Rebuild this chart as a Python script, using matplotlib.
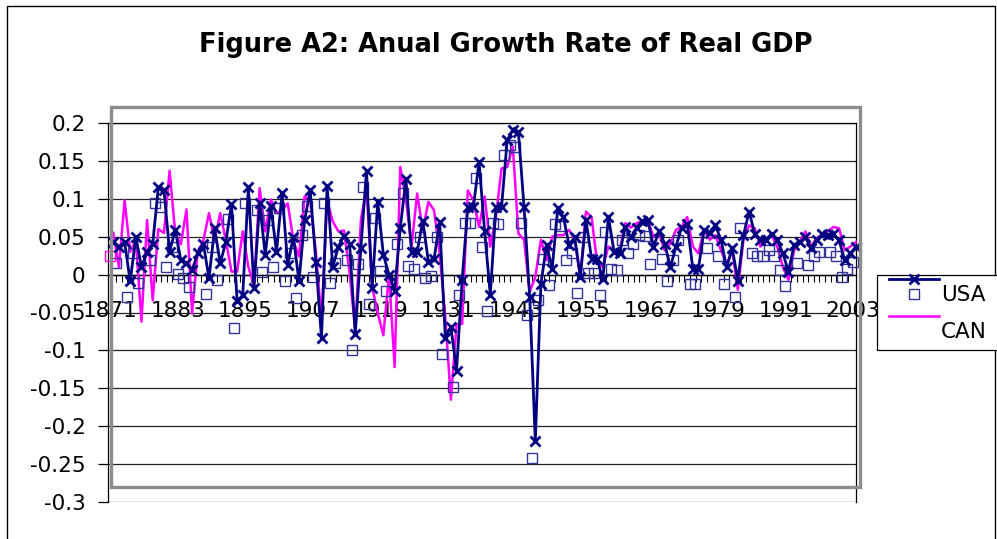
import matplotlib
matplotlib.use("Agg")
import matplotlib.pyplot as plt
import numpy as np
from matplotlib.lines import Line2D
from matplotlib.patches import Rectangle

nan = np.nan
years = list(range(1871, 2004))

usa = [0.043, 0.037, 0.043, -0.009, 0.050, 0.010, 0.030, 0.041, 0.115, 0.112,
       0.030, 0.059, 0.019, 0.015, 0.006, 0.028, 0.041, -0.005, 0.061, 0.015,
       0.043, 0.093, -0.035, -0.027, 0.115, -0.018, 0.094, 0.026, 0.090, 0.030,
       0.108, 0.013, 0.050, -0.009, 0.072, 0.111, 0.017, -0.084, 0.117, 0.010,
       0.037, 0.051, 0.040, -0.079, 0.035, 0.137, -0.018, 0.096, 0.026, 0.000,
       -0.021, 0.061, 0.126, 0.030, 0.030, 0.071, 0.017, 0.020, 0.070, -0.083,
       -0.069, -0.127, -0.007, 0.089, 0.089, 0.149, 0.057, -0.027, 0.089, 0.089,
       0.177, 0.191, 0.188, 0.089, -0.029, -0.220, -0.012, 0.039, 0.008, 0.088,
       0.076, 0.039, 0.049, -0.003, 0.072, 0.021, 0.020, -0.006, 0.076, 0.030,
       0.028, 0.063, 0.049, 0.062, 0.071, 0.072, 0.037, 0.057, 0.041, 0.0095,
       0.037, 0.062, 0.067, 0.008, 0.008, 0.059, 0.055, 0.065, 0.046, 0.0095,
       0.035, -0.008, 0.052, 0.083, 0.054, 0.046, 0.046, 0.054, 0.046, 0.028,
       0.004, 0.039, 0.043, 0.049, 0.035, 0.046, 0.053, 0.052, 0.054, 0.045,
       0.019, 0.028, 0.037]

can = [0.055, 0.010, 0.098, 0.030, 0.045, -0.062, 0.072, -0.034, 0.060, 0.055,
       0.137, 0.055, 0.040, 0.086, -0.051, 0.030, 0.045, 0.081, 0.045, 0.081,
       0.045, 0.004, 0.004, 0.057, 0.010, -0.014, 0.114, 0.057, 0.099, 0.081,
       0.085, 0.094, 0.045, 0.024, 0.103, 0.098, 0.030, -0.060, 0.098, 0.070,
       0.057, 0.058, 0.002, -0.073, 0.072, 0.114, -0.016, -0.051, -0.080, 0.000,
       -0.122, 0.142, 0.100, 0.037, 0.107, 0.059, 0.096, 0.085, 0.028, -0.056,
       -0.165, -0.066, -0.065, 0.111, 0.098, 0.063, 0.103, 0.037, 0.076, 0.140,
       0.142, 0.169, 0.054, 0.046, -0.023, -0.003, 0.046, 0.019, 0.050, 0.052,
       0.052, 0.059, 0.046, -0.003, 0.083, 0.076, 0.015, 0.010, 0.037, 0.032,
       0.032, 0.068, 0.062, 0.068, 0.070, 0.072, 0.050, 0.054, 0.032, 0.041,
       0.059, 0.063, 0.076, 0.037, 0.028, 0.059, 0.046, 0.052, 0.032, 0.013,
       0.032, -0.020, 0.046, 0.065, 0.061, 0.037, 0.046, 0.052, 0.037, 0.010,
       -0.007, 0.032, 0.043, 0.057, 0.037, 0.048, 0.053, 0.057, 0.063, 0.061,
       0.032, 0.037, 0.043]

squares = [0.024, 0.015, nan, -0.030, 0.028, -0.011, nan, 0.019, 0.095, 0.089,
           0.010, 0.037, 0.001, -0.005, -0.016, nan, nan, -0.026, 0.037, -0.007,
           nan, 0.073, -0.071, nan, 0.095, nan, 0.085, 0.003, 0.072, 0.010,
           0.088, -0.009, 0.029, -0.031, 0.052, 0.090, -0.003, nan, 0.095, -0.011,
           0.015, nan, 0.019, -0.099, 0.014, 0.115, -0.039, 0.075, 0.005, -0.022,
           nan, 0.040, 0.107, 0.011, 0.008, 0.050, -0.005, -0.002, 0.049, -0.105,
           nan, -0.148, -0.027, 0.068, 0.068, 0.127, 0.037, -0.048, 0.068, 0.067,
           0.158, 0.171, 0.168, 0.068, -0.053, -0.242, -0.034, 0.020, -0.014, 0.067,
           0.064, 0.019, 0.028, -0.024, 0.050, 0.002, 0.002, -0.027, 0.056, 0.008,
           0.006, 0.045, 0.028, 0.041, 0.052, 0.051, 0.014, nan, 0.021, -0.009,
           0.019, 0.046, nan, -0.012, -0.012, nan, 0.035, nan, 0.024, -0.012,
           nan, -0.029, 0.062, nan, 0.029, 0.024, 0.024, 0.032, 0.024, 0.006,
           -0.015, nan, 0.015, nan, 0.013, 0.024, 0.030, nan, 0.030, 0.024,
           -0.003, 0.008, 0.017]

tick_years = [1871, 1883, 1895, 1907, 1919, 1931, 1943, 1955, 1967, 1979, 1991, 2003]
y_ticks = [0.2, 0.15, 0.1, 0.05, 0, -0.05, -0.1, -0.15, -0.2, -0.25, -0.3]
y_labels = ["0.2", "0.15", "0.1", "0.05", "0", "-0.05", "-0.1", "-0.15", "-0.2", "-0.25", "-0.3"]
title = "Figure A2: Anual Growth Rate of Real GDP"
legend_labels = ["USA", "CAN"]

plt.rcParams['font.family'] = ['DejaVu Sans']
FS = 15.5

W, H = 997, 539
fig = plt.figure(figsize=(W / 100, H / 100), dpi=100)


def fx(x):
    return x / W


def fy(y):
    return 1 - y / H


ax_l, ax_r, ax_t, ax_b = 107.7, 856.0, 123.0, 502.0
ax = fig.add_axes([fx(ax_l), fy(ax_b), (ax_r - ax_l) / W, (ax_b - ax_t) / H])
ax.set_xlim(1870, 2003)
ax.set_ylim(-0.3, 0.2)

NAVY = "#000080"
MAG = "#FF00FF"
SQC = "#333399"

yrs = np.array(years, dtype=float)
ax.plot(yrs, can, color=MAG, lw=1.8, zorder=3, clip_on=False)
sq = np.array(squares, dtype=float)
ax.plot(yrs[1:] - 0.55, sq[1:], ls="none", marker="s", ms=6.5, mfc="none",
        mec=SQC, mew=1.0, zorder=4, clip_on=False)
ax.plot(yrs[:1] - 0.55, sq[:1], ls="none", marker="s", ms=6.5, mfc="none",
        mec=MAG, mew=1.0, zorder=4, clip_on=False)
ax.plot(yrs, usa, color=NAVY, lw=2.0, marker="x", ms=6.5, mew=2.0, zorder=5,
        clip_on=False)

# axes styling (Excel-like)
for s in ["left", "right", "top"]:
    ax.spines[s].set_color("black")
    ax.spines[s].set_linewidth(0.9)
ax.spines["bottom"].set_position(("data", 0))
ax.spines["bottom"].set_color("black")
ax.spines["bottom"].set_linewidth(1.0)
ax.set_yticks(y_ticks)
ax.set_yticklabels(y_labels, fontsize=FS)
ax.yaxis.grid(True, color="#222222", lw=0.9)
ax.set_axisbelow(True)
ax.tick_params(axis="y", length=7, width=0.9, pad=9, direction="out")

ax.set_xticks([y - 0.5 for y in tick_years])
ax.set_xticklabels([str(y) for y in tick_years], fontsize=FS)
ax.set_xticks(np.arange(1870.5, 2003, 1.0), minor=True)
ax.tick_params(axis="x", which="major", length=0, pad=19)
ax.tick_params(axis="x", which="minor", length=5, width=0.8, direction="out")

# plot-area gray frame (Excel)
fig.patches.append(Rectangle((fx(111), fy(487)), (860 - 111) / W, (487 - 107) / H,
                             transform=fig.transFigure, fill=False,
                             edgecolor="#8c8c8c", lw=2.4, zorder=10))
# chart-area border
fig.patches.append(Rectangle((fx(6.5), fy(560)), (995 - 6.5) / W, (560 - 6) / H,
                             transform=fig.transFigure, fill=False,
                             edgecolor="black", lw=1.0, zorder=0))

fig.text(fx(506), fy(45), title, ha="center", va="center", fontsize=18.5,
         fontweight="bold")

# legend (manual, Excel style, partially cut off on the right)
fig.patches.append(Rectangle((fx(877), fy(350)), (1010 - 877) / W, (350 - 275) / H,
                             transform=fig.transFigure, facecolor="white",
                             edgecolor="black", lw=0.9, zorder=11))
fig.add_artist(Line2D([fx(889), fx(939)], [fy(278.5), fy(278.5)], color=NAVY, lw=2.0,
                      zorder=12))
fig.add_artist(Line2D([fx(914)], [fy(278.5)], color=NAVY, marker="x", ms=6.5, mew=2.0,
                      zorder=12))
fig.add_artist(Line2D([fx(914)], [fy(294)], color=SQC, marker="s", ms=6.5,
                      mfc="none", mew=1.0, ls="none", zorder=12))
fig.add_artist(Line2D([fx(889), fx(939)], [fy(316), fy(316)], color=MAG, lw=1.8,
                      zorder=12))
fig.text(fx(941), fy(295), legend_labels[0], ha="left", va="center", fontsize=FS,
         zorder=13)
fig.text(fx(941), fy(332), legend_labels[1], ha="left", va="center", fontsize=FS,
         zorder=13)

fig.savefig("out.png", dpi=100)
